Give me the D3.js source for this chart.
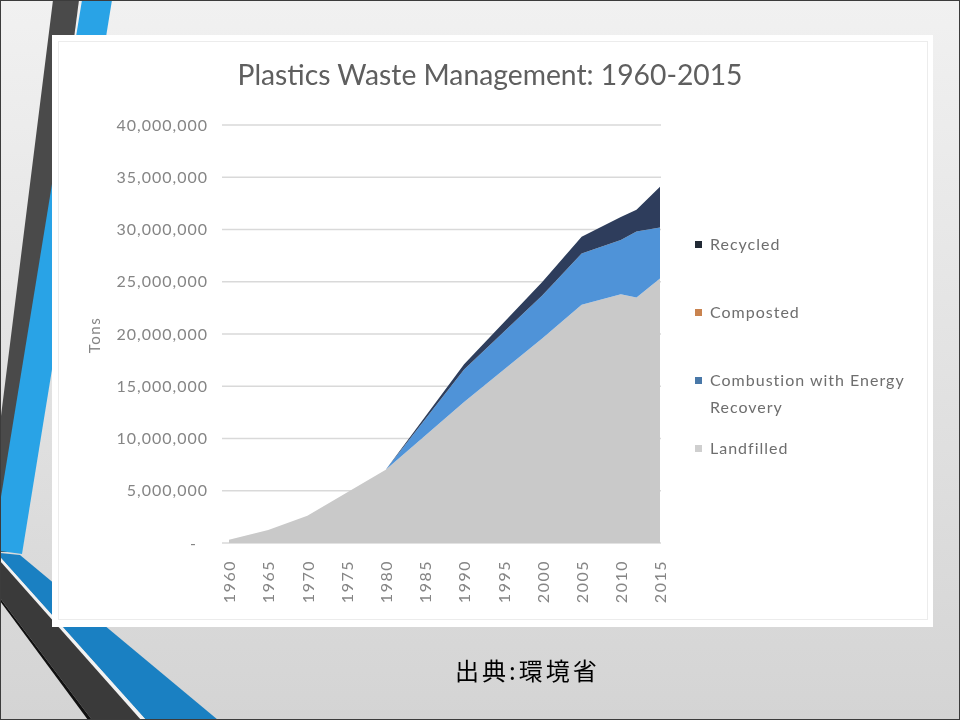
<!DOCTYPE html>
<html><head><meta charset="utf-8">
<script src="https://cdn.jsdelivr.net/npm/d3@7"></script>
<style>body{margin:0;background:#fff;} svg{display:block;}</style>
</head><body>
<script>
// ---- data ----
const years      = [1960, 1965, 1970, 1975, 1980, 1990, 2000, 2005, 2010, 2012, 2015];
const landfilled = [300000, 1250000, 2600000, 4800000, 7000000, 13500000, 19600000, 22800000, 23800000, 23500000, 25300000];
const composted  = [0, 0, 0, 0, 0, 0, 0, 0, 0, 0, 0];
const combustion = [0, 0, 0, 0, 0, 3100000, 4100000, 4900000, 5200000, 6300000, 4900000];
const recycled   = [0, 0, 0, 0, 0, 500000, 1300000, 1600000, 2200000, 2100000, 3900000];
const seriesKeys   = ["Landfilled", "Composted", "Combustion with Energy Recovery", "Recycled"];
const seriesColors = ["#c9c9c9", "#ed7d31", "#4f93d8", "#2d3e5c"];
const legendOrder  = ["Recycled", "Composted", "Combustion with Energy Recovery", "Landfilled"];
const legendLines  = [["Recycled"], ["Composted"], ["Combustion with Energy", "Recovery"], ["Landfilled"]];
const legendSwatch = ["#222a36", "#c9834f", "#4a78a8", "#cfcfcf"];
const yTicks = [0, 5000000, 10000000, 15000000, 20000000, 25000000, 30000000, 35000000, 40000000];
const xTicks = [1960, 1965, 1970, 1975, 1980, 1985, 1990, 1995, 2000, 2005, 2010, 2015];
const titleText = "Plastics Waste Management: 1960-2015";
const yTitle = "Tons";
const caption = "出典:環境省";

const W = 960, H = 720;
const svg = d3.select("body").append("svg").attr("width", W).attr("height", H);
const defs = svg.append("defs");
const bg = defs.append("linearGradient").attr("id", "bg").attr("x1", 0).attr("y1", 0).attr("x2", 0).attr("y2", 1);
bg.append("stop").attr("offset", "0%").attr("stop-color", "#f1f1f1");
bg.append("stop").attr("offset", "100%").attr("stop-color", "#d4d4d4");
defs.append("filter").attr("id", "soft").append("feGaussianBlur").attr("stdDeviation", 0.6);

svg.append("rect").attr("width", W).attr("height", H).attr("fill", "url(#bg)");

// decorative stripes
const stripe = (pts, fill) => svg.append("polygon").attr("points", pts.map(p => p.join(",")).join(" ")).attr("fill", fill);
stripe([[53,0],[79,0],[7,552],[0,552],[0,424]], "#4a4a4a");
stripe([[82,0],[112,0],[22,554],[0,551],[0,503]], "#29a3e6");
stripe([[0,553],[20,555],[218,720],[146,720],[0,557]], "#1a80c2");
stripe([[0,557],[146,720],[141,720],[0,561]], "#f2f2f2");
stripe([[0,561],[141,720],[92,720],[0,598]], "#3a3a3a");
stripe([[0,598],[92,720],[88,720],[0,601]], "#111");

// panel
svg.append("rect").attr("x", 52).attr("y", 35).attr("width", 881).attr("height", 592).attr("fill", "#fff");
svg.append("rect").attr("x", 58.5).attr("y", 41.5).attr("width", 869).attr("height", 578).attr("fill", "none").attr("stroke", "#ececec");

const g = svg.append("g").attr("filter", "url(#soft)");

const x = d3.scaleLinear().domain([1960, 2015]).range([229, 660]);
const y = d3.scaleLinear().domain([0, 40000000]).range([543, 125]);

// gridlines
g.append("g").selectAll("line").data(yTicks).join("line")
  .attr("x1", 222).attr("x2", 661)
  .attr("y1", d => y(d)).attr("y2", d => y(d))
  .attr("stroke", "#d9d9d9").attr("stroke-width", 1.6);

// stacked areas
const table = years.map((yr, i) => ({
  year: yr,
  "Landfilled": landfilled[i],
  "Composted": composted[i],
  "Combustion with Energy Recovery": combustion[i],
  "Recycled": recycled[i]
}));
const stacked = d3.stack().keys(seriesKeys)(table);
const area = d3.area().x(d => x(d.data.year)).y0(d => y(d[0])).y1(d => y(d[1]));
g.append("g").selectAll("path").data(stacked).join("path")
  .attr("d", area)
  .attr("fill", (d, i) => seriesColors[i]);

// y axis
const yAxis = g.append("g").attr("transform", "translate(222,0)")
  .call(d3.axisLeft(y).tickValues(yTicks).tickSize(0).tickPadding(14)
    .tickFormat(d => d === 0 ? "-" : d3.format(",")(d)));
yAxis.select(".domain").remove();
yAxis.selectAll("text").attr("font-family", "Lato, sans-serif").attr("font-size", 16)
  .attr("fill", "#858585").attr("letter-spacing", "1px");
yAxis.selectAll("text").filter(d => d === 0).attr("x", -25);

// x axis
const xAxis = g.append("g").attr("transform", "translate(0,543)")
  .call(d3.axisBottom(x).tickValues(xTicks).tickSize(0).tickFormat(d3.format("d")));
xAxis.select(".domain").remove();
xAxis.selectAll("text")
  .attr("transform", "rotate(-90)").attr("text-anchor", "end")
  .attr("x", -17).attr("y", 0).attr("dy", "0.36em")
  .attr("font-family", "Lato, sans-serif").attr("font-size", 16)
  .attr("fill", "#858585").attr("letter-spacing", "1.5px");

// axis title
g.append("text").attr("transform", "translate(100,335) rotate(-90)")
  .attr("text-anchor", "middle").attr("font-family", "Lato, sans-serif").attr("font-size", 15)
  .attr("letter-spacing", "1.5px").attr("fill", "#858585").text(yTitle);

// title
g.append("text").attr("x", 490).attr("y", 85).attr("text-anchor", "middle")
  .attr("font-family", "Lato, sans-serif").attr("font-size", 28).attr("fill", "#5e5e5e")
  .attr("textLength", 505).attr("lengthAdjust", "spacingAndGlyphs").text(titleText);

// legend
const lg = g.append("g").attr("transform", "translate(695,0)");
const legY = d3.scalePoint().domain(legendOrder).range([244.5, 448.5]);
legendOrder.forEach((name, i) => {
  const cy = legY(name);
  lg.append("rect").attr("x", 0).attr("y", cy - 3.5).attr("width", 7).attr("height", 7).attr("fill", legendSwatch[i]);
  const t = lg.append("text").attr("x", 15).attr("y", cy + 5.5)
    .attr("font-family", "Lato, sans-serif").attr("font-size", 16).attr("fill", "#6e6e6e").attr("letter-spacing", "1px");
  legendLines[i].forEach((ln, j) => t.append("tspan").attr("x", 15).attr("dy", j === 0 ? 0 : 27).text(ln));
});

// caption
svg.append("text").attr("x", 455).attr("y", 680)
  .attr("font-family", "'Noto Sans CJK JP', sans-serif").attr("font-size", 24).attr("fill", "#000")
  .attr("letter-spacing", "3px")
  .text(caption);

// slide border
svg.append("rect").attr("x", 0.5).attr("y", 0.5).attr("width", W - 1).attr("height", H - 1)
  .attr("fill", "none").attr("stroke", "#3c3c3c");
</script>
</body></html>
